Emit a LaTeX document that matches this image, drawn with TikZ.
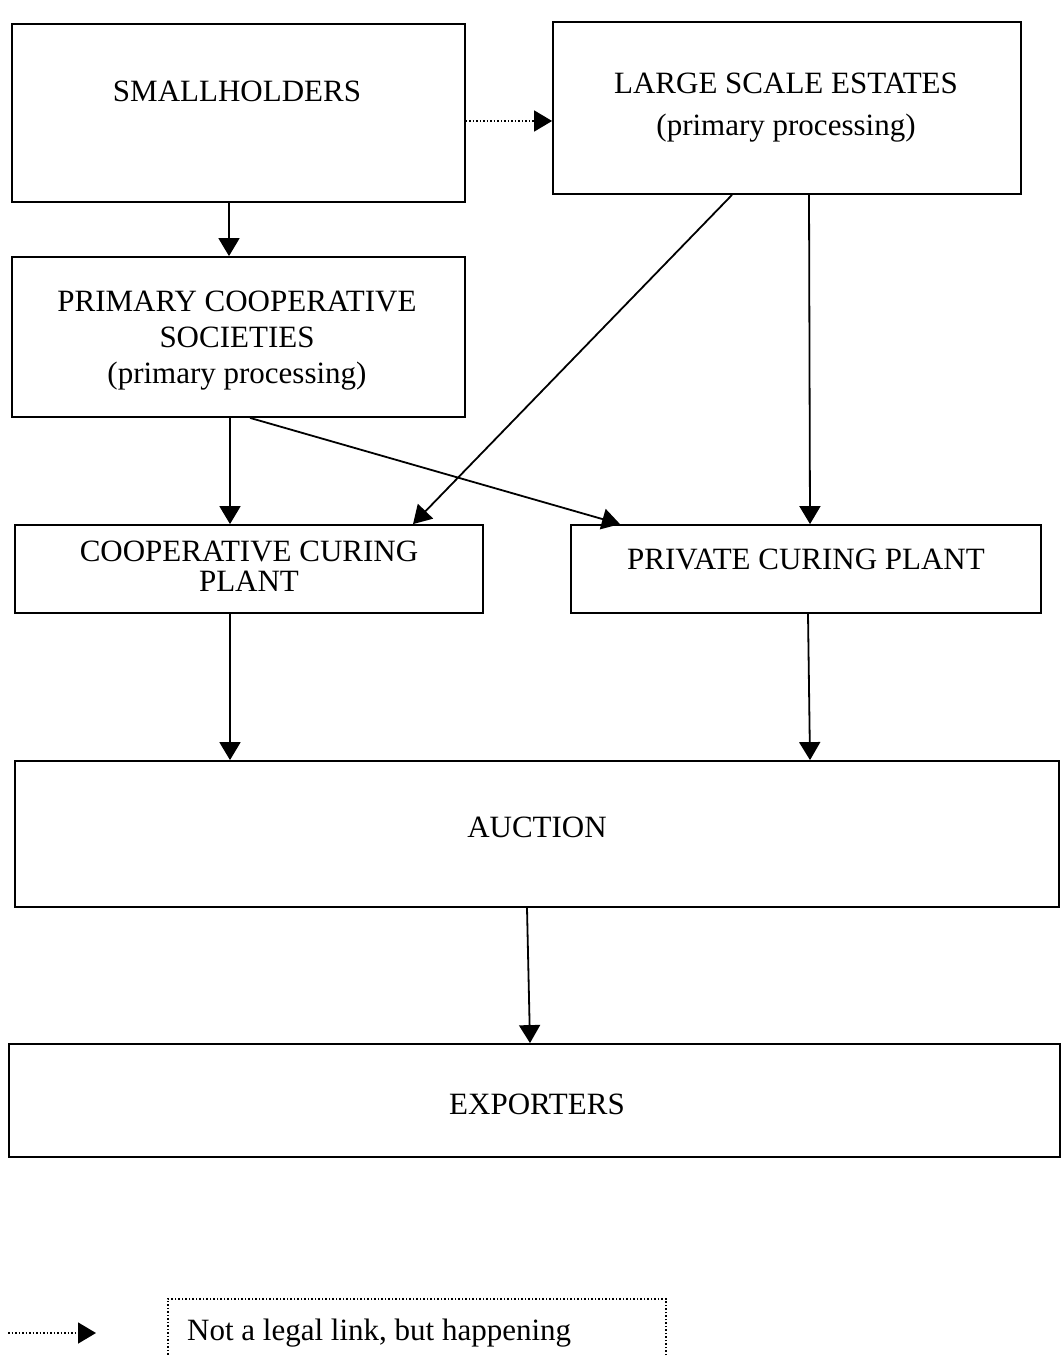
\documentclass[tikz,border=0pt]{standalone}
\usepackage{fontspec}
\setmainfont{Liberation Serif}
\usetikzlibrary{arrows.meta}
\begin{document}
\begin{tikzpicture}[x=1pt,y=-1pt,
  box/.style={draw,line width=1.8pt,inner sep=0pt,anchor=center},
  lbl/.style={inner sep=0pt,anchor=center,font=\fontsize{31}{36}\selectfont,align=center},
  arr/.style={line width=1.8pt,-{Triangle[length=18pt,width=21pt]}},
  dotarr/.style={line width=1.5pt,dash pattern=on 1.5pt off 2pt,-{Triangle[length=18pt,width=21pt]}}]
\useasboundingbox (0,0) rectangle (1060,1356);
% boxes
\node[box,minimum width=453pt,minimum height=178pt] (sh) at (238.5,113) {};
\node[box,minimum width=468pt,minimum height=172pt] (lse) at (787,108) {};
\node[box,minimum width=453pt,minimum height=160pt] (pcs) at (238.5,337) {};
\node[box,minimum width=468pt,minimum height=88pt] (ccp) at (249,569) {};
\node[box,minimum width=470pt,minimum height=88pt] (pcp) at (806,569) {};
\node[box,minimum width=1044pt,minimum height=146pt] (auc) at (537,834) {};
\node[box,minimum width=1051pt,minimum height=113pt] (exp) at (534.5,1100.5) {};
% labels
\node[lbl] (tsh) at (237,91) {SMALLHOLDERS};
\node[lbl] (tlse1) at (786,83) {LARGE SCALE ESTATES};
\node[lbl] (tlse2) at (786,128) {(primary processing)};
\node[lbl] (tpcs) at (237,341) {PRIMARY COOPERATIVE\\SOCIETIES\\(primary processing)};
\node[lbl,font=\fontsize{31}{30}\selectfont] (tccp) at (249,566) {COOPERATIVE CURING\\PLANT};
\node[lbl] (tpcp) at (806,559) {PRIVATE CURING PLANT};
\node[lbl] (tauc) at (537,827) {AUCTION};
\node[lbl] (texp) at (537,1104) {EXPORTERS};
% connectors
\draw[dotarr] ([yshift=-8pt]sh.east) -- ([yshift=-8pt]sh.east -| lse.west);
\draw[arr] ([xshift=-9.5pt]sh.south) -- ([xshift=-9.5pt]pcs.north);
\draw[arr] ([xshift=-8.5pt]pcs.south) -- ([xshift=-19pt]ccp.north);
\draw[arr] ([xshift=11.5pt]pcs.south) -- ([xshift=-186pt]pcp.north);
\draw[arr] ([xshift=-55pt]lse.south) -- ([xshift=164pt]ccp.north);
\draw[arr] ([xshift=22pt]lse.south) -- ([xshift=4pt]pcp.north);
\draw[arr] ([xshift=-19pt]ccp.south) -- ([xshift=-307pt]auc.north);
\draw[arr] ([xshift=2pt]pcp.south) -- ([xshift=273pt]auc.north);
\draw[arr] ([xshift=-10pt]auc.south) -- ([xshift=-4.5pt]exp.north);
% legend
\node[draw,line width=1.5pt,dash pattern=on 1.5pt off 2pt,inner sep=0pt,minimum width=498pt,minimum height=80pt,anchor=north west] (leg) at (167,1298) {};
\node[lbl,anchor=west] (tleg) at (187,1333) {Not a legal link, but happening};
\coordinate (la) at (8,1333);
\coordinate (lb) at (96,1333);
\draw[dotarr] (la) -- (lb);
\end{tikzpicture}
\end{document}
